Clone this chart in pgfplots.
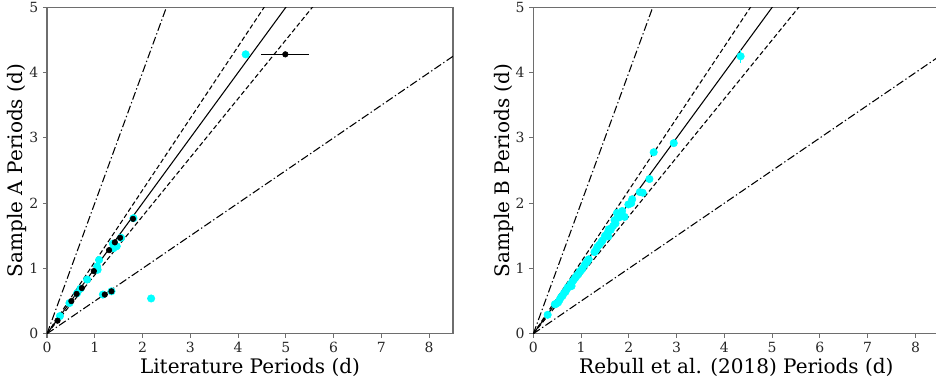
\documentclass[border=0pt]{standalone}
\usepackage{pgfplots}
\pgfplotsset{compat=1.18}
\usepackage{fontspec}
\setmainfont{DejaVu Serif}
\definecolor{spine}{RGB}{110,110,110}
\definecolor{aqua}{RGB}{0,255,255}
\pgfplotsset{
  myax/.style={
    scale only axis, width=304.5pt, height=244.8pt,
    xmin=0, xmax=8.5, ymin=0, ymax=5,
    xtick={0,1,...,8}, ytick={0,1,...,5},
    axis line style={spine, line width=0.9pt},
    tick style={spine, line width=0.8pt},
    tick align=outside, major tick length=3pt,
    xtick pos=bottom, ytick pos=left,
    tick label style={font=\fontsize{10.5}{12}\selectfont, text=black!85},
    /pgf/number format/assume math mode=true,
    xlabel style={font=\fontsize{15}{17}\selectfont, yshift=3pt},
    ylabel style={font=\fontsize{15}{17}\selectfont, yshift=-5pt},
    clip=true,
  },
  guide/.style={black, line width=0.8pt, no marks},
}
\newcommand{\guides}{%
  \addplot[guide] coordinates {(0,0) (8.5,8.5)};
  \addplot[guide, dash pattern=on 3.5pt off 2pt] coordinates {(0,0) (8.5,9.35)};
  \addplot[guide, dash pattern=on 3.5pt off 2pt] coordinates {(0,0) (8.5,7.65)};
  \addplot[guide, dash pattern=on 6pt off 2pt on 1pt off 2pt] coordinates {(0,0) (8.5,17)};
  \addplot[guide, dash pattern=on 6pt off 2pt on 1pt off 2pt] coordinates {(0,0) (8.5,4.25)};
}
\begin{document}
\begin{tikzpicture}
\begin{axis}[myax, at={(0pt,0pt)}, anchor=south west,
  xlabel={Literature Periods (d)}, ylabel={Sample A Periods (d)}]
\guides
\addplot[only marks, mark=*, mark size=2.8pt, draw=aqua, fill=aqua] coordinates {
(0.27,0.27) (0.47,0.47) (0.63,0.62) (0.70,0.69) (0.84,0.83) (1.06,0.98)
(1.09,1.13) (1.05,1.03) (1.38,1.38) (1.46,1.34) (1.39,1.31) (1.55,1.47)
(1.81,1.77) (1.17,0.60) (2.18,0.54) (4.16,4.28) (1.35,0.65)};
\addplot[only marks, mark=*, mark size=2.1pt, black,
  error bars/.cd, x dir=both, x explicit, error bar style={line width=1pt}, error mark=none]
  coordinates {
(0.22,0.20) +- (0,0) (0.51,0.50) +- (0,0) (0.62,0.61) +- (0,0) (0.73,0.70) +- (0,0)
(0.98,0.96) +- (0,0) (1.30,1.28) +- (0,0) (1.42,1.40) +- (0,0) (1.53,1.47) +- (0,0)
(1.80,1.76) +- (0,0) (1.21,0.60) +- (0,0) (1.35,0.65) +- (0,0) (4.99,4.28) +- (0.5,0)};
\end{axis}
\begin{axis}[myax, at={(364.75pt,0pt)}, anchor=south west,
  xlabel={Rebull et al. (2018) Periods (d)}, ylabel={Sample B Periods (d)}]
\guides
\addplot[only marks, mark=*, mark size=2.8pt, draw=aqua, fill=aqua,
  error bars/.cd, y dir=both, y explicit, error bar style={aqua, line width=1pt}, error mark=none]
  coordinates {
(0.30,0.29) +- (0,0) (0.45,0.45) +- (0,0) (0.48,0.46) +- (0,0) (0.52,0.48) +- (0,0)
(0.55,0.52) +- (0,0) (0.58,0.56) +- (0,0) (0.61,0.58) +- (0,0) (0.64,0.62) +- (0,0)
(0.67,0.64) +- (0,0) (0.70,0.68) +- (0,0) (0.72,0.71) +- (0,0) (0.75,0.72) +- (0,0)
(0.78,0.76) +- (0,0) (0.80,0.73) +- (0,0) (0.82,0.80) +- (0,0) (0.85,0.83) +- (0,0)
(0.88,0.86) +- (0,0) (0.91,0.89) +- (0,0) (0.94,0.91) +- (0,0) (0.97,0.95) +- (0,0)
(1.00,0.97) +- (0,0) (1.03,1.00) +- (0,0) (1.08,1.06) +- (0,0) (1.12,1.10) +- (0,0)
(1.16,1.14) +- (0,0) (1.14,1.12) +- (0,0) (1.28,1.25) +- (0,0) (1.31,1.28) +- (0,0)
(1.34,1.33) +- (0,0) (1.38,1.36) +- (0,0) (1.42,1.40) +- (0,0) (1.45,1.43) +- (0,0)
(1.50,1.50) +- (0,0) (1.55,1.54) +- (0,0) (1.58,1.60) +- (0,0) (1.62,1.59) +- (0,0)
(1.57,1.49) +- (0,0) (1.67,1.65) +- (0,0) (1.72,1.69) +- (0,0) (1.70,1.74) +- (0,0)
(1.75,1.85) +- (0,0) (1.79,1.78) +- (0,0) (1.84,1.82) +- (0,0) (1.86,1.88) +- (0,0)
(1.91,1.79) +- (0,0) (1.99,1.98) +- (0,0) (2.05,2.00) +- (0,0) (2.07,2.06) +- (0,0)
(2.23,2.17) +- (0,0) (2.29,2.16) +- (0,0) (2.43,2.37) +- (0,0) (2.52,2.78) +- (0,0)
(2.94,2.92) +- (0,0) (4.34,4.25) +- (0.1,0.1)};
\end{axis}
\pgfresetboundingbox
\useasboundingbox (-35.25pt,-35.5pt) rectangle (666.75pt,250.3pt);
\end{tikzpicture}
\end{document}
